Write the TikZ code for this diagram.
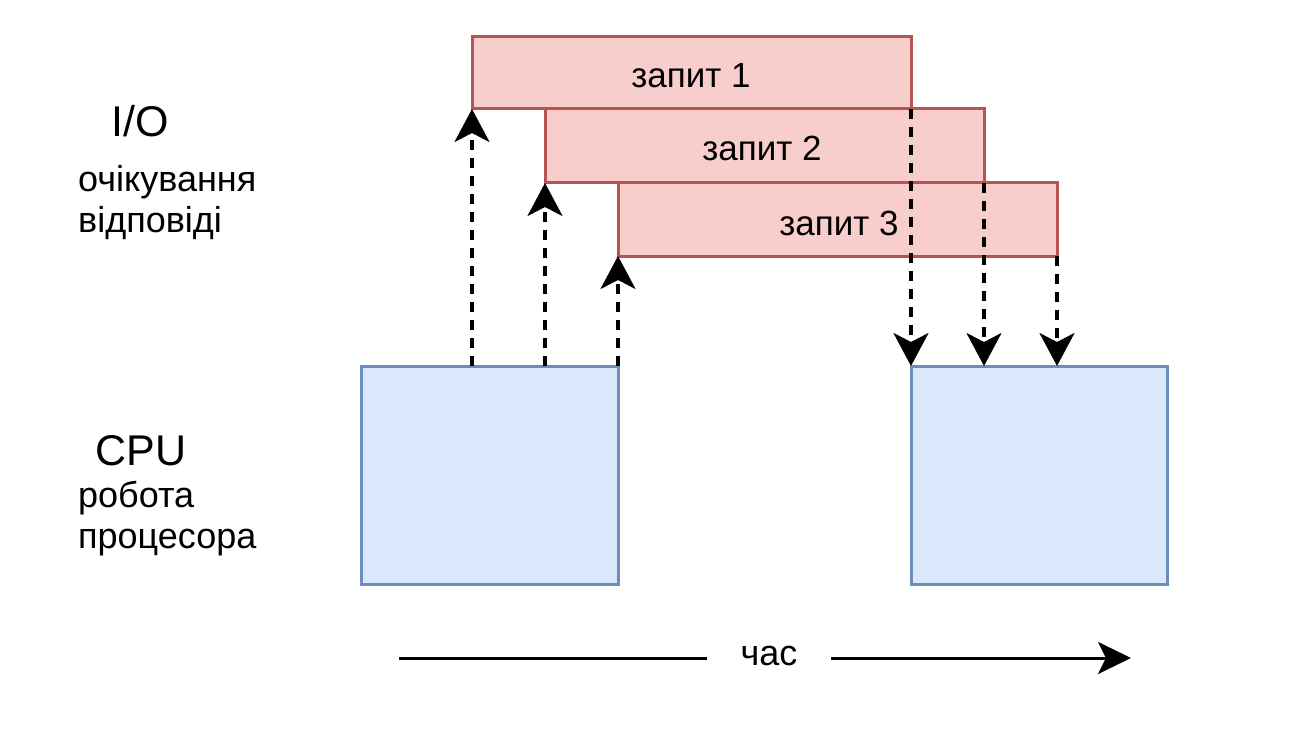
\documentclass[tikz,border=0pt]{standalone}
\usepackage{fontspec}
\setmainfont{Liberation Sans}
\usetikzlibrary{arrows.meta}
\definecolor{redfill}{HTML}{F8CECC}
\definecolor{reddraw}{HTML}{B85450}
\definecolor{bluefill}{HTML}{DAE8FC}
\definecolor{bluedraw}{HTML}{6C8EBF}
\tikzset{
  req/.style={draw=reddraw, fill=redfill, line width=3pt},
  cpubox/.style={draw=bluedraw, fill=bluefill, line width=3pt},
  bigtip/.style={-{Stealth[length=33pt,width=35pt,inset=9pt]}},
  dasharrow/.style={bigtip, line width=3.2pt, dash pattern=on 10pt off 8pt},
  reqtext/.style={font=\fontsize{35}{40}\selectfont, inner sep=0pt},
  lbl/.style={font=\fontsize{43}{50}\selectfont, inner sep=0pt, anchor=base},
  sublbl/.style={font=\fontsize{36}{41}\selectfont, inner sep=0pt, anchor=base west},
}
\begin{document}
\begin{tikzpicture}[x=1pt,y=-1pt]
\useasboundingbox (0,0) rectangle (1309,730);
% red request boxes
\draw[req] (472,37) rectangle (911,109);
\draw[req] (545,109) rectangle (984,183);
\draw[req] (618,183) rectangle (1057,256);
\node[reqtext] (r1) at (691,76) {запит 1};
\node[reqtext] (r2) at (762,148) {запит 2};
\node[reqtext] (r3) at (839,223) {запит 3};
% cpu boxes
\draw[cpubox] (361,366) rectangle (618,584);
\draw[cpubox] (911,366) rectangle (1167,584);
% connector coordinates
\coordinate (u1s) at (472,366); \coordinate (u1e) at (472,109);
\coordinate (u2s) at (545,366); \coordinate (u2e) at (545,183);
\coordinate (u3s) at (618,366); \coordinate (u3e) at (618,256);
\coordinate (d1s) at (911,109); \coordinate (d1e) at (911,366);
\coordinate (d2s) at (984,183); \coordinate (d2e) at (984,366);
\coordinate (d3s) at (1057,256); \coordinate (d3e) at (1057,366);
\draw[dasharrow] (u1s) -- (u1e);
\draw[dasharrow] (u2s) -- (u2e);
\draw[dasharrow] (u3s) -- (u3e);
\draw[dasharrow] (d1s) -- (d1e);
\draw[dasharrow] (d2s) -- (d2e);
\draw[dasharrow] (d3s) -- (d3e);
% labels
\node[lbl] (io) at (140,137) {I/O};
\node[sublbl] (io1) at (78,192) {очікування};
\node[sublbl] (io2) at (78,233) {відповіді};
\node[lbl] (cpu) at (141,465) {CPU};
\node[sublbl] (cpu1) at (78,507) {робота};
\node[sublbl] (cpu2) at (78,548) {процесора};
% time axis
\coordinate (ts) at (399,658);
\coordinate (te) at (1131,658);
\draw[-{Stealth[length=33pt,width=32pt,inset=8pt]}, line width=3pt] (ts) -- (te);
\node[fill=white, font=\fontsize{36}{41}\selectfont, inner xsep=34pt, inner ysep=4pt] (time) at (769,656) {час};
\end{tikzpicture}
\end{document}
